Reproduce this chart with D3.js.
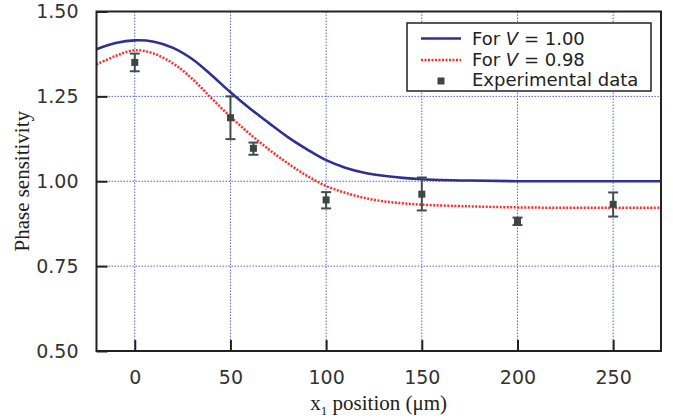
<!DOCTYPE html>
<html>
<head>
<meta charset="utf-8">
<script src="https://cdn.jsdelivr.net/npm/d3@7"></script>
<style>
  body { margin: 0; background: #fff; }
  svg { display: block; }
</style>
</head>
<body>
<div id="chart"></div>
<script>
// curve samples
const curveX = [-20, -10, 0, 10, 20, 30, 40, 50, 60, 70, 80, 90, 100, 110, 120, 130, 140, 150, 175, 200, 225, 250, 275];
const visOne = [1.389, 1.407, 1.415, 1.411, 1.393, 1.360, 1.313, 1.262, 1.215, 1.172, 1.130, 1.094, 1.062, 1.040, 1.025, 1.016, 1.010, 1.006, 1.002, 1.000, 1.000, 1.000, 1.000];
const visLow = [1.344, 1.369, 1.386, 1.376, 1.347, 1.302, 1.245, 1.190, 1.140, 1.094, 1.053, 1.016, 0.986, 0.966, 0.951, 0.941, 0.935, 0.931, 0.926, 0.923, 0.922, 0.922, 0.922];

// experimental points
const expX = [0, 50, 62, 100, 150, 200, 250];
const expY = [1.350, 1.187, 1.097, 0.945, 0.962, 0.882, 0.932];
const expLo = [1.324, 1.124, 1.078, 0.920, 0.914, 0.871, 0.896];
const expHi = [1.376, 1.250, 1.114, 0.968, 1.011, 0.893, 0.967];

const xTicks = [0, 50, 100, 150, 200, 250];
const yTicks = [0.50, 0.75, 1.00, 1.25, 1.50];

const W = 673, H = 418;
const pLeft = 96.5, pRight = 661, pTop = 11.5, pBottom = 351;

const svg = d3.select("#chart").append("svg")
  .attr("width", W)
  .attr("height", H);

const x = d3.scaleLinear().domain([-20, 275]).range([pLeft, pRight]);
const y = d3.scaleLinear().domain([0.5, 1.5]).range([pBottom, pTop]);

// grid
const grid = svg.append("g")
  .attr("stroke", "#5565cc")
  .attr("stroke-width", 1)
  .attr("stroke-dasharray", "1.5,1.5");
grid.selectAll("line.gx")
  .data(xTicks)
  .enter().append("line")
  .attr("x1", d => x(d)).attr("x2", d => x(d))
  .attr("y1", pTop).attr("y2", pBottom);
grid.selectAll("line.gy")
  .data([0.75, 1.00, 1.25])
  .enter().append("line")
  .attr("x1", pLeft).attr("x2", pRight)
  .attr("y1", d => y(d)).attr("y2", d => y(d));

// curves
const line = d3.line()
  .x(d => x(d[0]))
  .y(d => y(d[1]))
  .curve(d3.curveCatmullRom.alpha(0.5));

svg.append("path")
  .attr("d", line(curveX.map((v, i) => [v, visLow[i]])))
  .attr("fill", "none")
  .attr("stroke", "#ff2a2a")
  .attr("stroke-width", 2.5)
  .attr("stroke-dasharray", "2,1.5");

svg.append("path")
  .attr("d", line(curveX.map((v, i) => [v, visOne[i]])))
  .attr("fill", "none")
  .attr("stroke", "#2e3192")
  .attr("stroke-width", 2.6);

// error bars + markers
const pts = expX.map((v, i) => ({x: v, y: expY[i], lo: expLo[i], hi: expHi[i]}));
const eb = svg.append("g")
  .attr("stroke", "#434c4c")
  .attr("stroke-width", 2);
eb.selectAll("line.v")
  .data(pts).enter().append("line")
  .attr("x1", d => x(d.x)).attr("x2", d => x(d.x))
  .attr("y1", d => y(d.lo)).attr("y2", d => y(d.hi));
eb.selectAll("line.lo")
  .data(pts).enter().append("line")
  .attr("x1", d => x(d.x) - 5).attr("x2", d => x(d.x) + 5)
  .attr("y1", d => y(d.lo)).attr("y2", d => y(d.lo));
eb.selectAll("line.hi")
  .data(pts).enter().append("line")
  .attr("x1", d => x(d.x) - 5).attr("x2", d => x(d.x) + 5)
  .attr("y1", d => y(d.hi)).attr("y2", d => y(d.hi));
svg.selectAll("rect.pt")
  .data(pts).enter().append("rect")
  .attr("x", d => x(d.x) - 3.5)
  .attr("y", d => y(d.y) - 3.5)
  .attr("width", 7).attr("height", 7)
  .attr("fill", "#3c4646");

// frame
svg.append("rect")
  .attr("x", pLeft).attr("y", pTop)
  .attr("width", pRight - pLeft).attr("height", pBottom - pTop)
  .attr("fill", "none")
  .attr("stroke", "#222")
  .attr("stroke-width", 2);

// axes with inward ticks
const yAxis = d3.axisLeft(y).tickValues(yTicks).tickFormat(d3.format(".2f")).tickSize(-11).tickPadding(18);
const xAxis = d3.axisBottom(x).tickValues(xTicks).tickFormat(d3.format("d")).tickSize(-11).tickPadding(20);

const gy = svg.append("g").attr("transform", `translate(${pLeft},0)`).call(yAxis);
const gx = svg.append("g").attr("transform", `translate(0,${pBottom})`).call(xAxis);
[gx, gy].forEach(g => {
  g.select(".domain").remove();
  g.selectAll(".tick line").attr("stroke", "#222").attr("stroke-width", 2);
  g.selectAll(".tick text")
    .attr("font-family", "DejaVu Sans")
    .attr("font-size", 19)
    .attr("fill", "#333");
});

// axis titles
svg.append("text")
  .attr("x", (pLeft + pRight) / 2)
  .attr("y", 410)
  .attr("text-anchor", "middle")
  .attr("font-family", "Liberation Serif")
  .attr("font-size", 21)
  .attr("fill", "#222")
  .html('x<tspan dy="5" font-size="13">1</tspan><tspan dy="-5"> position (μm)</tspan>');

svg.append("text")
  .attr("transform", `translate(29,${(pTop + pBottom) / 2}) rotate(-90)`)
  .attr("text-anchor", "middle")
  .attr("font-family", "Liberation Serif")
  .attr("font-size", 21)
  .attr("fill", "#222")
  .text("Phase sensitivity");

// legend
const lg = svg.append("g");
lg.append("rect")
  .attr("x", 407).attr("y", 23)
  .attr("width", 244).attr("height", 68)
  .attr("fill", "#fff")
  .attr("stroke", "#222")
  .attr("stroke-width", 1.5);
lg.append("line")
  .attr("x1", 421).attr("x2", 461).attr("y1", 38.5).attr("y2", 38.5)
  .attr("stroke", "#2e3192").attr("stroke-width", 2.6);
lg.append("line")
  .attr("x1", 421).attr("x2", 461).attr("y1", 60).attr("y2", 60)
  .attr("stroke", "#ff2a2a").attr("stroke-width", 2.5).attr("stroke-dasharray", "2,1.5");
lg.append("rect")
  .attr("x", 437.5).attr("y", 77.5).attr("width", 7).attr("height", 7)
  .attr("fill", "#3c4646");

const legendText = [
  {y: 45, html: 'For <tspan font-style="italic">V</tspan> = 1.00'},
  {y: 65.5, html: 'For <tspan font-style="italic">V</tspan> = 0.98'},
  {y: 86, html: 'Experimental data'}
];
lg.selectAll("text")
  .data(legendText).enter().append("text")
  .attr("x", 472)
  .attr("y", d => d.y)
  .attr("font-family", "DejaVu Sans")
  .attr("font-size", 18)
  .attr("fill", "#222")
  .html(d => d.html);
</script>
</body>
</html>
